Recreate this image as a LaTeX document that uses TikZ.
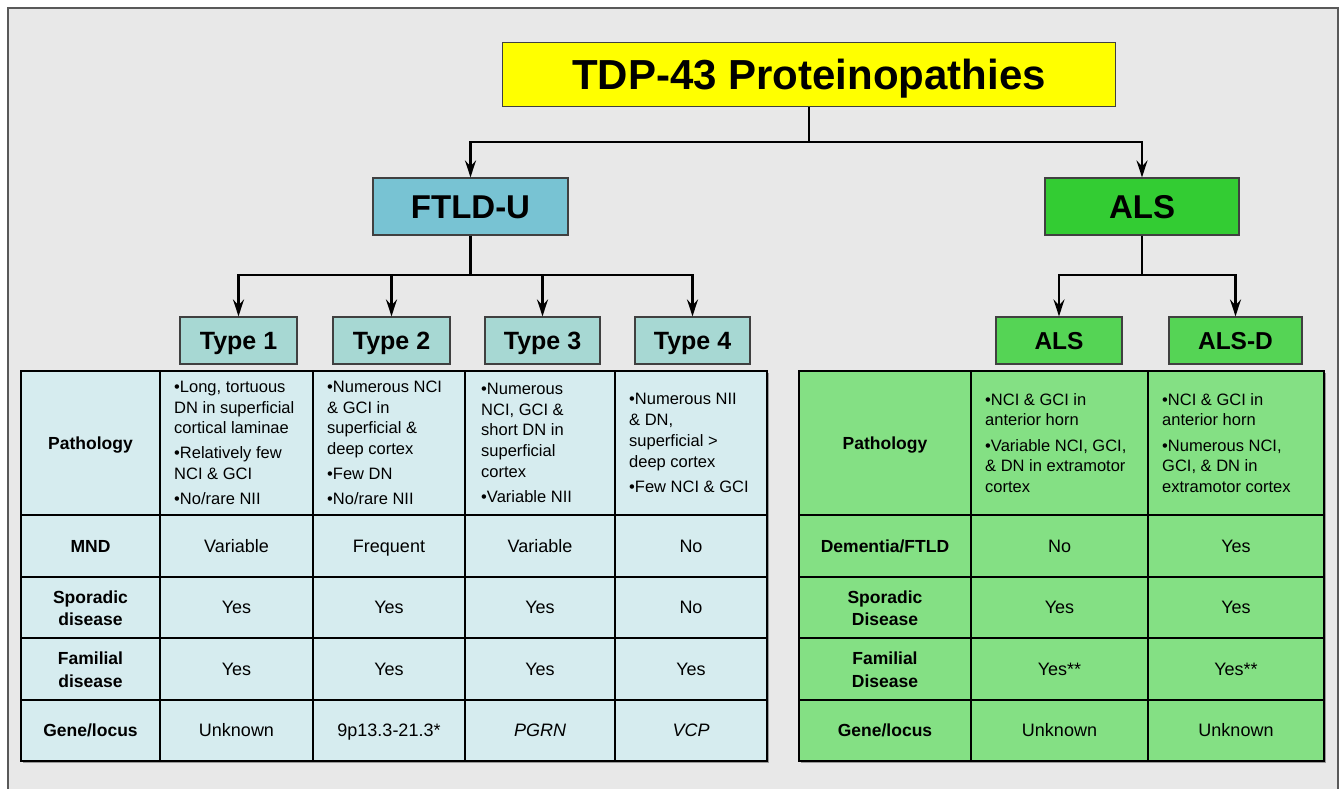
\documentclass[tikz,border=0pt]{standalone}
\usepackage{fontspec}
\setmainfont{Liberation Sans}
\usetikzlibrary{arrows.meta}
\definecolor{bgc}{HTML}{E8E8E8}
\definecolor{ttl}{HTML}{FFFF00}
\definecolor{ftc}{HTML}{78C3D3}
\definecolor{alc}{HTML}{33CC33}
\definecolor{typc}{HTML}{A7D8D3}
\definecolor{alsub}{HTML}{55D455}
\definecolor{ltab}{HTML}{D6ECEF}
\definecolor{rtab}{HTML}{84E084}
\begin{document}
\begin{tikzpicture}[x=1pt,y=-1pt,
  box/.style={draw=black!75, line width=1.2pt, inner sep=0pt, text=black},
  arr/.style={-{Stealth[length=17pt,width=11pt,inset=6pt]}, line width=2.3pt},
  conn/.style={line width=2.3pt},
  grid/.style={line width=1.7pt, draw=black},
  path/.style={inner sep=0pt, anchor=west, align=left, font=\fontsize{16.5}{20.7}\selectfont},
  val/.style={inner sep=0pt, text height=12.9pt, text depth=0pt, font=\fontsize{18}{22.5}\selectfont},
  lab/.style={inner sep=0pt, align=center, font=\fontsize{17.5}{22.5}\selectfont\bfseries},
  lab1/.style={inner sep=0pt, text height=12.5pt, text depth=0pt, font=\fontsize{17.5}{22.5}\selectfont\bfseries}]
\useasboundingbox (0,0) rectangle (1342,789);
\fill[white] (0,0) rectangle (1342,789);
\draw[fill=bgc, draw=black!65, line width=1.5pt] (8,8) rectangle (1338,800);

% header boxes
\node[box, fill=ttl, minimum width=613pt, minimum height=64pt, text height=30pt, text depth=0pt,
  font=\fontsize{42}{48}\selectfont\bfseries] (title) at (809,74.5) {TDP-43 Proteinopathies};
\node[box, fill=ftc, minimum width=195pt, minimum height=57pt, text height=23.6pt, text depth=0pt,
  font=\fontsize{33}{38}\selectfont\bfseries] (ftld) at (470.5,206.5) {FTLD-U};
\node[box, fill=alc, minimum width=194pt, minimum height=57pt, text height=23.6pt, text depth=0pt,
  font=\fontsize{33}{38}\selectfont\bfseries] (als) at (1142,206.5) {ALS};

\tikzset{tbox/.style={box, fill=typc, minimum height=47pt, text height=17.9pt, text depth=0pt, font=\fontsize{25}{30}\selectfont\bfseries}}
\node[tbox, minimum width=117pt] (t1) at (238.5,340.5) {Type 1};
\node[tbox, minimum width=117pt] (t2) at (391.5,340.5) {Type 2};
\node[tbox, minimum width=115pt] (t3) at (542.5,340.5) {Type 3};
\node[tbox, minimum width=115pt] (t4) at (692.5,340.5) {Type 4};
\tikzset{abox/.style={box, fill=alsub, minimum height=47pt, text height=17.5pt, text depth=0pt, font=\fontsize{24.5}{30}\selectfont\bfseries}}
\node[abox, minimum width=126pt] (alsa) at (1059,340.5) {ALS};
\node[abox, minimum width=133pt] (alsd) at (1235.5,340.5) {ALS-D};

% connectors
\coordinate (j1) at (809,142);
\coordinate (j2) at (470.5,275);
\coordinate (j3) at (1142,275);
\draw[conn] (title.south) -- (title.south |- j1);
\draw[arr] (title.south |- j1) -| (ftld.north);
\draw[arr] (title.south |- j1) -| (als.north);
\draw[conn] (ftld.south) -- (ftld.south |- j2);
\foreach \t in {t1,t2,t3,t4} \draw[arr] (ftld.south |- j2) -| (\t.north);
\draw[conn] (als.south) -- (als.south |- j3);
\foreach \t in {alsa,alsd} \draw[arr] (als.south |- j3) -| (\t.north);

% left table
\fill[black!40] (22.5,372.5) rectangle (768.5,762.5);
\fill[ltab] (21,371) rectangle (767,761);
\foreach \x in {160,313,465,615} \draw[grid] (\x,371) -- (\x,761);
\foreach \y in {515,577,638,700} \draw[grid] (21,\y) -- (767,\y);
\draw[grid, line width=2pt] (21,371) rectangle (767,761);

% right table
\fill[black!40] (800.5,372.5) rectangle (1325.5,762.5);
\fill[rtab] (799,371) rectangle (1324,761);
\foreach \x in {971,1148} \draw[grid] (\x,371) -- (\x,761);
\foreach \y in {515,577,638,700} \draw[grid] (799,\y) -- (1324,\y);
\draw[grid, line width=2pt] (799,371) rectangle (1324,761);

% left table texts
\node[lab1] (lp) at (90.5,443) {Pathology};
\node[lab1] (lm) at (90.5,546) {MND};
\node[lab] (ls) at (90.5,608) {Sporadic\\disease};
\node[lab] (lf) at (90.5,669.5) {Familial\\disease};
\node[lab1] (lg) at (90.5,730.5) {Gene/locus};

\node[path] (p1) at (174,443) {•Long, tortuous\\DN in superficial\\cortical laminae\\[4.5pt]•Relatively few\\NCI \& GCI\\[4.5pt]•No/rare NII};
\node[path] (p2) at (327,443) {•Numerous NCI\\\& GCI in\\superficial \&\\deep cortex\\[4.5pt]•Few DN\\[4.5pt]•No/rare NII};
\node[path] (p3) at (481,443) {•Numerous\\NCI, GCI \&\\short DN in\\superficial\\cortex\\[4.5pt]•Variable NII};
\node[path] (p4) at (629,443) {•Numerous NII\\\& DN,\\superficial >\\deep cortex\\[4.5pt]•Few NCI \& GCI};

\node[val] (m1) at (236.5,546) {Variable};
\node[val] (m2) at (389,546) {Frequent};
\node[val] (m3) at (540,546) {Variable};
\node[val] (m4) at (691,546) {No};
\node[val] (s1) at (236.5,607.5) {Yes};
\node[val] (s2) at (389,607.5) {Yes};
\node[val] (s3) at (540,607.5) {Yes};
\node[val] (s4) at (691,607.5) {No};
\node[val] (f1) at (236.5,669) {Yes};
\node[val] (f2) at (389,669) {Yes};
\node[val] (f3) at (540,669) {Yes};
\node[val] (f4) at (691,669) {Yes};
\node[val] (g1) at (236.5,730.5) {Unknown};
\node[val] (g2) at (389,730.5) {9p13.3-21.3*};
\node[val] (g3) at (540,730.5) {\itshape PGRN};
\node[val] (g4) at (691,730.5) {\itshape VCP};

% right table texts
\node[lab1] (rp) at (885,443) {Pathology};
\node[lab1] (rd) at (885,546) {Dementia/FTLD};
\node[lab] (rs) at (885,608) {Sporadic\\Disease};
\node[lab] (rf) at (885,669.5) {Familial\\Disease};
\node[lab1] (rg) at (885,730.5) {Gene/locus};

\node[path] (pa) at (985,443) {•NCI \& GCI in\\anterior horn\\[4.5pt]•Variable NCI, GCI,\\\& DN in extramotor\\cortex};
\node[path] (pd) at (1162,443) {•NCI \& GCI in\\anterior horn\\[4.5pt]•Numerous NCI,\\GCI, \& DN in\\extramotor cortex};

\node[val] (da) at (1059.5,546) {No};
\node[val] (dd) at (1236,546) {Yes};
\node[val] (sa) at (1059.5,607.5) {Yes};
\node[val] (sd) at (1236,607.5) {Yes};
\node[val] (fa) at (1059.5,669) {Yes**};
\node[val] (fd) at (1236,669) {Yes**};
\node[val] (ga) at (1059.5,730.5) {Unknown};
\node[val] (gd) at (1236,730.5) {Unknown};
\end{tikzpicture}
\end{document}
